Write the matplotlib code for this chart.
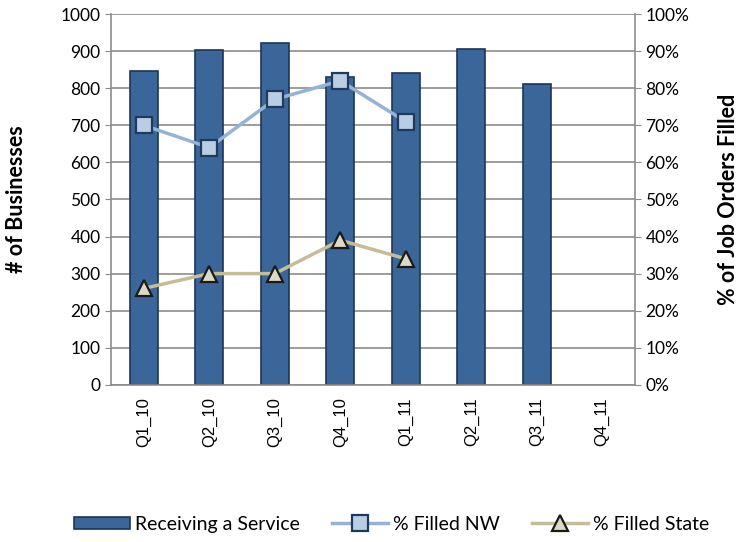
import matplotlib.pyplot as plt
import numpy as np
from matplotlib.ticker import PercentFormatter

plt.rcParams['font.family'] = ['Lato', 'DejaVu Sans']

quarters = ['Q1_10', 'Q2_10', 'Q3_10', 'Q4_10', 'Q1_11', 'Q2_11', 'Q3_11', 'Q4_11']
businesses = [846, 903, 922, 831, 842, 905, 812, np.nan]
filled_nw = [70, 64, 77, 82, 71]
filled_state = [26, 30, 30, 39, 34]

x = np.arange(len(quarters))
grey = '#8c8c8c'

fig = plt.figure(figsize=(7.4, 5.42), dpi=100)
ax = fig.add_axes([0.15, 0.29, 0.708, 0.684])

ax.bar(x, businesses, width=0.43, color='#3B6699', edgecolor='#1C3657',
       linewidth=1.2, label='Receiving a Service', zorder=2)
ax.set_ylim(0, 1000)
ax.set_xlim(-0.5, len(quarters) - 0.5)
ax.set_yticks(range(0, 1001, 100))
ax.grid(axis='y', color=grey, linewidth=1.2, zorder=0)
ax.set_axisbelow(True)
ax.set_xticks(x)
ax.set_xticklabels(quarters, rotation=90, fontsize=12,
                   family=['Liberation Sans', 'DejaVu Sans'])
ax.tick_params(axis='y', labelsize=12.5, color=grey, length=4)
ax.tick_params(axis='x', length=0, pad=9)
ax.set_ylabel('# of Businesses', fontsize=15.5, fontweight='bold')
ax.yaxis.set_label_coords(-0.16, 0.5)
for s in ax.spines.values():
    s.set_color(grey)
    s.set_linewidth(1.2)
ax.spines['top'].set_visible(False)

ax2 = ax.twinx()
ax2.plot(x[:len(filled_nw)], filled_nw, color='#95B3D7', linewidth=2.5,
         marker='s', markersize=11, markerfacecolor='#B9CDE5',
         markeredgecolor='#1F3A5C', markeredgewidth=1.6, label='% Filled NW')
ax2.plot(x[:len(filled_state)], filled_state, color='#C4BD97', linewidth=2.5,
         marker='^', markersize=12, markerfacecolor='#DDD9C3',
         markeredgecolor='#1a1a1a', markeredgewidth=1.6, label='% Filled State')
ax2.set_ylim(0, 100)
ax2.set_yticks(range(0, 101, 10))
ax2.yaxis.set_major_formatter(PercentFormatter(decimals=0))
ax2.tick_params(axis='y', labelsize=12.5, color=grey, length=4)
ax2.set_ylabel('% of Job Orders Filled', fontsize=15.5, fontweight='bold')
ax2.yaxis.set_label_coords(1.158, 0.5)
for s in ax2.spines.values():
    s.set_visible(False)

h1, l1 = ax.get_legend_handles_labels()
h2, l2 = ax2.get_legend_handles_labels()
fig.legend(h1 + h2, l1 + l2, loc='center', bbox_to_anchor=(0.529, 0.033),
           ncol=3, frameon=False, fontsize=14, handlelength=2.9,
           handleheight=0.6, handletextpad=0.25, columnspacing=1.65)

fig.savefig('out.png', dpi=100)
